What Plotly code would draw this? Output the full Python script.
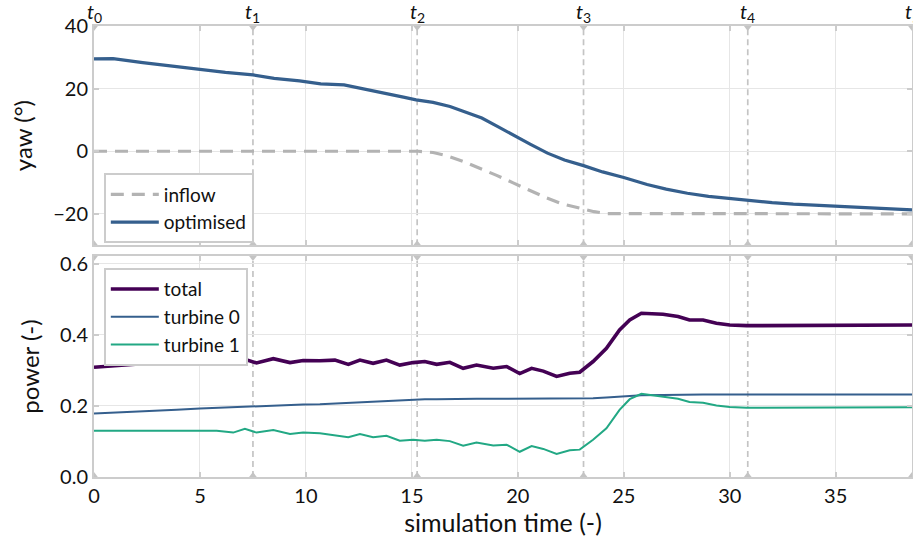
import plotly.graph_objects as go
from plotly.subplots import make_subplots

# ---------------- data ----------------
t_marks = [0, 7.5, 15.25, 23.1, 30.85, 38.6]
t_labels = ["<i>t</i><sub>0</sub>", "<i>t</i><sub>1</sub>", "<i>t</i><sub>2</sub>",
            "<i>t</i><sub>3</sub>", "<i>t</i><sub>4</sub>", "<i>t</i><sub>5</sub>"]

time_opt = [0, 0.9, 2.3, 3.5, 5, 6.2, 7.5, 8.5, 9.7, 10.7, 11.8, 12.8, 13.8, 14.6, 15.2,
            16.0, 16.8, 17.5, 18.3, 19.1, 19.9, 20.6, 21.4, 22.2, 23.1, 24.0, 25.0, 26.1,
            27.0, 28.0, 29.0, 30.0, 31.0, 32.0, 33.0, 34.0, 35.0, 36.0, 37.0, 38.0, 38.6]
yaw_opt = [29.5, 29.6, 28.3, 27.3, 26.3, 25.2, 24.4, 23.3, 22.5, 21.5, 21.2, 19.9, 18.6,
           17.3, 16.4, 15.6, 14.3, 12.5, 10.6, 7.7, 4.7, 2.2, -0.6, -2.8, -4.6, -6.6, -8.4,
           -10.6, -12.1, -13.4, -14.4, -15.1, -15.8, -16.4, -16.9, -17.2, -17.6, -17.9,
           -18.2, -18.5, -18.7]

time_inflow = [0, 15.3, 16.0, 16.64, 17.4, 18.2, 19.0, 19.78, 20.6, 21.35, 22.1, 22.92,
               23.6, 24.2, 38.6]
yaw_inflow = [0, 0, -0.4, -1.4, -3.2, -5.4, -7.7, -10.1, -12.7, -14.9, -16.8, -18.1,
              -19.3, -19.9, -20]

time_pow = [0, 1.38, 2.95, 3.9, 5.0, 5.79, 6.57, 7.12, 7.67, 8.46, 9.25, 9.87, 10.66,
            11.37, 12.0, 12.55, 13.17, 13.8, 14.43, 15.06, 15.61, 16.17, 16.79, 17.42,
            18.05, 18.84, 19.47, 20.09, 20.65, 21.2, 21.83, 22.45, 22.92, 23.55, 24.18,
            24.8, 25.28, 25.83, 26.85, 27.56, 28.1, 28.74, 29.37, 30.0, 30.8, 38.6]
power_total = [0.309, 0.315, 0.322, 0.326, 0.328, 0.331, 0.323, 0.331, 0.321, 0.333,
               0.322, 0.328, 0.327, 0.329, 0.317, 0.329, 0.320, 0.329, 0.315, 0.322,
               0.325, 0.317, 0.323, 0.306, 0.315, 0.306, 0.311, 0.291, 0.306, 0.298,
               0.283, 0.292, 0.295, 0.325, 0.362, 0.414, 0.442, 0.461, 0.458, 0.452,
               0.442, 0.442, 0.433, 0.428, 0.426, 0.428]
power_t0 = [0.179, 0.182, 0.186, 0.189, 0.193, 0.195, 0.197, 0.198, 0.199, 0.201, 0.202,
            0.204, 0.205, 0.207, 0.209, 0.211, 0.213, 0.215, 0.216, 0.218, 0.219, 0.219,
            0.220, 0.220, 0.220, 0.220, 0.220, 0.220, 0.220, 0.220, 0.221, 0.221, 0.221,
            0.222, 0.224, 0.227, 0.229, 0.230, 0.231, 0.232, 0.232, 0.232, 0.232, 0.232,
            0.232, 0.232]
power_t1 = [0.130, 0.130, 0.130, 0.130, 0.130, 0.130, 0.125, 0.136, 0.125, 0.132, 0.121,
            0.125, 0.123, 0.118, 0.112, 0.121, 0.112, 0.116, 0.102, 0.105, 0.102, 0.105,
            0.101, 0.088, 0.097, 0.089, 0.091, 0.071, 0.087, 0.079, 0.065, 0.075, 0.077,
            0.105, 0.137, 0.189, 0.219, 0.234, 0.225, 0.220, 0.211, 0.209, 0.201, 0.197,
            0.195, 0.196]

x_ticks = [0, 5, 10, 15, 20, 25, 30, 35]
yaw_ticks = [-20, 0, 20, 40]
yaw_tick_text = ["\u221220", "0", "20", "40"]
pow_ticks = [0.0, 0.2, 0.4, 0.6]

# ---------------- style ----------------
FONT = "Lato"
TXT = "#111111"
SPINE = "#cccccc"
GRID = "#e6e6e6"
MARK = "#c4c4c4"
C_BLUE = "#355f8d"
C_PURPLE = "#440154"
C_GREEN = "#22a884"
C_INFLOW = "#b3b3b3"

fig = make_subplots(rows=2, cols=1, shared_xaxes=True, vertical_spacing=0.025)

fig.add_trace(go.Scatter(x=time_inflow, y=yaw_inflow, mode="lines", name="inflow",
                         line=dict(color=C_INFLOW, width=3.2, dash="13px,8px"),
                         legend="legend"), row=1, col=1)
fig.add_trace(go.Scatter(x=time_opt, y=yaw_opt, mode="lines", name="optimised",
                         line=dict(color=C_BLUE, width=3.2), legend="legend"), row=1, col=1)

fig.add_trace(go.Scatter(x=time_pow, y=power_total, mode="lines", name="total",
                         line=dict(color=C_PURPLE, width=3.6), legend="legend2"), row=2, col=1)
fig.add_trace(go.Scatter(x=time_pow, y=power_t0, mode="lines", name="turbine 0",
                         line=dict(color=C_BLUE, width=2), legend="legend2"), row=2, col=1)
fig.add_trace(go.Scatter(x=time_pow, y=power_t1, mode="lines", name="turbine 1",
                         line=dict(color=C_GREEN, width=2), legend="legend2"), row=2, col=1)

yaw_range = [-30, 40]
pow_range = [0, 0.622]

# triangle markers at each t mark on panel edges
for row, rng in [(1, yaw_range), (2, pow_range)]:
    fig.add_trace(go.Scatter(x=t_marks, y=[rng[1]] * len(t_marks), mode="markers",
                             marker=dict(symbol="triangle-down", size=10, color=MARK),
                             cliponaxis=True, showlegend=False, hoverinfo="skip"),
                  row=row, col=1)
    fig.add_trace(go.Scatter(x=t_marks, y=[rng[0]] * len(t_marks), mode="markers",
                             marker=dict(symbol="triangle-up", size=10, color=MARK),
                             cliponaxis=True, showlegend=False, hoverinfo="skip"),
                  row=row, col=1)

# dashed vertical lines at inner t marks
for tm in t_marks[1:-1]:
    for xref, yref in [("x", "y domain"), ("x2", "y2 domain")]:
        fig.add_shape(type="line", x0=tm, x1=tm, y0=0, y1=1, xref=xref, yref=yref,
                      line=dict(color=MARK, width=1.7, dash="6px,4px"), layer="below")

# t labels above top panel
for tm, lab in zip(t_marks, t_labels):
    fig.add_annotation(x=tm, y=1, xref="x", yref="paper", text=lab, showarrow=False,
                       yanchor="bottom", yshift=-2,
                       font=dict(family=FONT, size=20, color=TXT))

axis_common = dict(showline=True, linecolor=SPINE, linewidth=2, mirror="allticks",
                   showgrid=True, gridcolor=GRID, gridwidth=1.3, zeroline=False,
                   ticks="inside", ticklen=5, tickcolor=SPINE, tickwidth=2,
                   automargin=False,
                   tickfont=dict(family=FONT, size=20, color=TXT))

fig.update_xaxes(range=[0, 38.6], tickvals=x_ticks, **axis_common)
fig.update_xaxes(showticklabels=False, row=1, col=1)
fig.update_xaxes(title=dict(text="simulation time (-)", standoff=8,
                            font=dict(family=FONT, size=25, color=TXT)), row=2, col=1)
fig.update_yaxes(range=yaw_range, tickvals=yaw_ticks, ticktext=yaw_tick_text,
                 row=1, col=1, **axis_common)
fig.update_yaxes(title=dict(text="yaw (°)", standoff=14,
                            font=dict(family=FONT, size=24, color=TXT)), row=1, col=1)
fig.update_yaxes(range=pow_range, tickvals=pow_ticks, tickformat=".1f", row=2, col=1,
                 **axis_common)
fig.update_yaxes(title=dict(text="power (-)", standoff=14,
                            font=dict(family=FONT, size=24, color=TXT)), row=2, col=1)

legend_common = dict(xanchor="left", yanchor="top", bgcolor="white",
                     bordercolor=SPINE, borderwidth=2,
                     font=dict(family=FONT, size=19, color=TXT),
                     itemwidth=48, tracegroupgap=0)
fig.update_layout(
    width=913, height=550,
    margin=dict(l=94, r=1, t=26, b=73),
    paper_bgcolor="white", plot_bgcolor="white",
    font=dict(family=FONT, size=18, color=TXT),
    legend=dict(x=0.012, y=0.673, **legend_common),
    legend2=dict(x=0.012, y=0.463, **legend_common),
    showlegend=True,
)
fig.update_layout(yaxis=dict(domain=[0.514, 1.0]), yaxis2=dict(domain=[0.0, 0.49]))

fig.write_html("out.html", config={"displayModeBar": False},
               post_script="document.body.style.margin='0';document.body.style.overflow='hidden';")
